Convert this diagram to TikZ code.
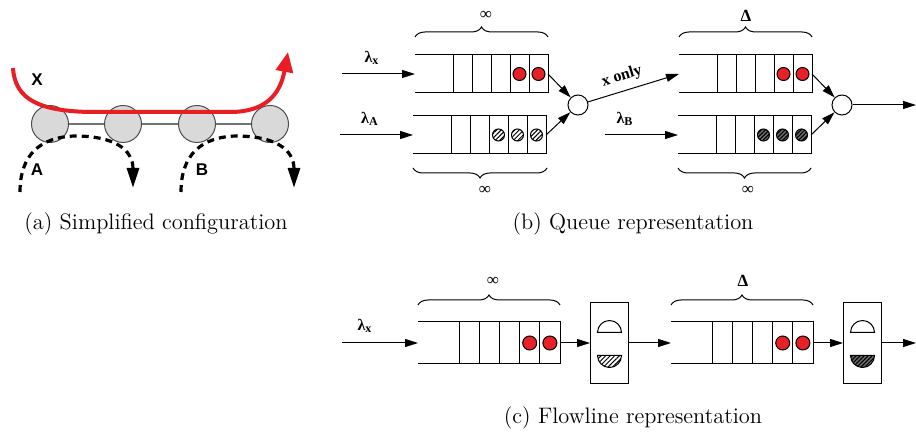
\documentclass[tikz,border=0pt]{standalone}
\usepackage{fontspec}
\usetikzlibrary{arrows.meta,decorations.pathreplacing,patterns.meta}
\newfontfamily\figserif{Liberation Serif}
\newfontfamily\figsans{Liberation Sans}
\definecolor{dotred}{RGB}{232,32,40}
\definecolor{pathred}{RGB}{232,30,36}
\definecolor{sitegray}{RGB}{217,217,217}
\tikzset{
  qline/.style={line width=0.5pt},
  flow/.style={qline,-{Triangle[length=6.5pt,width=4pt]}},
  server/.style={circle,draw,qline,minimum size=10pt,inner sep=0pt},
  machine/.style={rectangle,draw,qline,minimum width=19pt,minimum height=40.5pt,inner sep=0pt},
  site/.style={circle,draw=black!70,fill=sitegray,minimum size=18.5pt,inner sep=0pt,line width=0.5pt},
  dashpath/.style={line width=1.6pt,dash pattern=on 3.5pt off 2.5pt,-{Triangle[length=10pt,width=6pt]}},
  qlabel/.style={font=\figserif\bfseries\fontsize{8}{9}\selectfont},
  blabel/.style={font=\figserif\fontsize{8.5}{9}\selectfont},
  slabel/.style={font=\figsans\bfseries\fontsize{8.5}{9}\selectfont},
  captext/.style={font=\fontsize{11.2}{13}\selectfont},
  capbrace/.style={decorate,decoration={brace,amplitude=5pt},line width=0.5pt},
  hatchlight/.style={pattern={Lines[angle=45,distance=1.6pt,line width=0.5pt]}},
  hatchdark/.style={fill=black!55,postaction={pattern={Lines[angle=45,distance=1.4pt,line width=0.6pt]}}},
}
\begin{document}
\begin{tikzpicture}[x=0.5pt,y=-0.5pt]
  \useasboundingbox (0,0) rectangle (916,432);
  % (a) simplified configuration
  \foreach \n/\x in {1/50,2/123,3/197,4/270}
    \node[site] (c\n) at (\x,124) {};
  \draw[black!55,line width=0.8pt] (c1) -- (c2) (c2) -- (c3) (c3) -- (c4);
  \draw[pathred,line width=2pt,-{Triangle[length=10pt,width=8.5pt]}]
    (13,68) .. controls (15,100) and (40,111) .. (90,112) -- (230,112)
    .. controls (265,112) and (280,95) .. (288,52);
  \foreach \d in {0,161}
    \draw[dashpath] (20+\d,192) .. controls (20+\d,155) and (40+\d,137) .. (75+\d,136)
      .. controls (115+\d,136) and (133+\d,150) .. (133+\d,188);
  \node[slabel] (xlab) at (37,80) {X};
  \node[slabel] (alab) at (37,170) {A};
  \node[slabel] (blab) at (202,170) {B};
  \node[captext] (capa) at (156,224) {(a) Simplified configuration};
  % (b) queue representation
  \foreach \n/\x/\y in {1/415/55,2/413/116,3/679/55,4/678/116}{
    \draw[qline] (\x,\y) -- ++(133,0) -- ++(0,38) -- ++(-133,0);
    \foreach \k in {0,...,4}
      \draw[qline] (\x+38+19*\k,\y) -- ++(0,38);
    \coordinate (qin\n) at (\x,\y+19);
    \coordinate (qout\n) at (\x+133,\y+19);
  }
  \foreach \x in {519.5,538.5,783.5,802.5}
    \draw[qline,fill=dotred] (\x,74) circle[radius=3.25pt];
  \foreach \x in {498.5,517.5,536.5}
    \draw[qline,hatchlight] (\x,135) circle[radius=3pt];
  \foreach \x in {763.5,782.5,801.5}
    \draw[qline,hatchdark] (\x,135) circle[radius=3pt];
  \node[server] (s1) at (578,105) {};
  \node[server] (s2) at (842,105) {};
  \coordinate (lx) at (342,74);
  \coordinate (la) at (340,135);
  \coordinate (lb) at (605,135);
  \coordinate (out1) at (916,105);
  \draw[flow] (lx) -- (qin1);
  \draw[flow] (la) -- (qin2);
  \draw[flow] (lb) -- (qin4);
  \draw[flow] (qout1) -- (s1);
  \draw[flow] (qout2) -- (s1);
  \draw[flow] (s1) -- node[qlabel,sloped,above,pos=0.42] {x only} (qin3);
  \draw[flow] (qout3) -- (s2);
  \draw[flow] (qout4) -- (s2);
  \draw[flow] (s2) -- (out1);
  \node[qlabel] at (372,58) {λ\textsubscript{x}};
  \node[qlabel] at (370,119) {λ\textsubscript{A}};
  \node[qlabel] at (625,119) {λ\textsubscript{B}};
  \draw[capbrace] (415,37) -- (548,37);
  \draw[capbrace] (547,168) -- (413,168);
  \draw[capbrace] (679,37) -- (812,37);
  \draw[capbrace] (811,168) -- (678,168);
  \node[blabel] at (486,15) {∞};
  \node[blabel] at (485,190) {∞};
  \node[qlabel,font=\figserif\bfseries\fontsize{8.5}{9}\selectfont] at (746,16) {Δ};
  \node[blabel] at (748,190) {∞};
  \node[captext] (capb) at (633,224) {(b) Queue representation};
  % (c) flowline representation
  \foreach \n/\x in {5/418,6/671}{
    \draw[qline] (\x,322) -- ++(142,0) -- ++(0,42) -- ++(-142,0);
    \foreach \k in {0,...,4}
      \draw[qline] (\x+41+20.2*\k,322) -- ++(0,42);
    \foreach \k in {3,4}
      \draw[qline,fill=dotred] (\x+51.1+20.2*\k,343) circle[radius=3.5pt];
    \coordinate (qin\n) at (\x,343);
    \coordinate (qout\n) at (\x+142,343);
  }
  \node[machine] (m1) at (609.5,343) {};
  \node[machine] (m2) at (862.5,343) {};
  \foreach \m/\h in {m1/hatchlight,m2/hatchdark}{
    \draw[qline] ([xshift=-6pt,yshift=5.25pt]\m.center) arc[start angle=180,end angle=0,radius=6pt] -- cycle;
    \draw[qline,\h] ([xshift=-6pt,yshift=-6.25pt]\m.center) arc[start angle=180,end angle=360,radius=6pt] -- cycle;
  }
  \coordinate (lxc) at (342,343);
  \coordinate (out2) at (916,343);
  \draw[flow] (lxc) -- (qin5);
  \draw[flow] (qout5) -- (m1);
  \draw[flow] (m1) -- (qin6);
  \draw[flow] (qout6) -- (m2);
  \draw[flow] (m2) -- (out2);
  \node[qlabel] at (365,326) {λ\textsubscript{x}};
  \draw[capbrace] (418,305) -- (560,305);
  \draw[capbrace] (671,305) -- (813,305);
  \node[blabel] at (493,281) {∞};
  \node[qlabel,font=\figserif\bfseries\fontsize{8.5}{9}\selectfont] at (743,281) {Δ};
  \node[captext] (capc) at (633,418) {(c) Flowline representation};
\end{tikzpicture}
\end{document}
